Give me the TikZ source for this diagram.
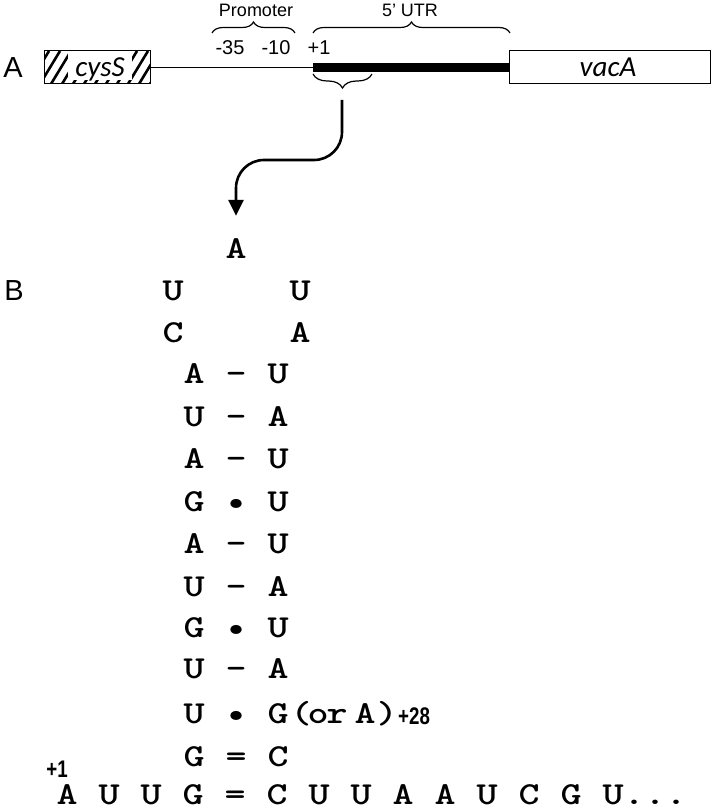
\documentclass[tikz,border=0pt]{standalone}
\usepackage{fontspec}
\setmainfont{Liberation Sans}
\newfontfamily\carl{Carlito}
\usetikzlibrary{decorations.pathreplacing,arrows.meta}
\tikzset{
  lbl/.style={inner sep=0pt, anchor=base, font=\fontsize{29}{30}\selectfont},
  gene/.style={draw, line width=1pt, minimum height=33pt, inner sep=0pt},
  genetxt/.style={inner sep=0pt, anchor=base, font=\carl\itshape\fontsize{29}{30}\selectfont},
  small/.style={inner sep=0pt, anchor=base, font=\fontsize{18}{20}\selectfont},
  num/.style={inner sep=0pt, anchor=base, font=\fontsize{20}{21}\selectfont},
  br/.style={decorate, decoration={brace, amplitude=11pt}, line width=1.2pt},
  nt/.style={inner sep=0pt, anchor=base, font=\ttfamily\bfseries\fontsize{32}{34}\selectfont},
  posn/.style={inner sep=0pt, anchor=base, font=\bfseries\fontsize{24}{25}\selectfont},
  arr/.style={line width=2.6pt, rounded corners=28pt, -{Triangle[width=15pt,length=16pt]}},
}
\newcommand\wide[1]{\scalebox{1.25}[1]{#1}}
\newcommand\narrow[1]{\scalebox{0.78}[1]{#1}}
\newcommand\pairrow[5]{%
  \node[nt] (#1l) at (194,#2) {\wide{#3}};
  \node[nt] (#1m) at (236,#2) {\wide{#4}};
  \node[nt] (#1r) at (278,#2) {\wide{#5}};}
\begin{document}
\begin{tikzpicture}[x=1pt,y=-1pt]
\useasboundingbox (0,0) rectangle (712,810);
% ---------- Part A ----------
\node[lbl] (labA) at (13,78) {A};
\begin{scope}
  \clip (44,51) rectangle (150,84);
  \foreach \x in {18,29,...,160} \draw[line width=2.6pt] (\x,84) -- ++(20,-33);
\end{scope}
\fill[white] (68,51.5) rectangle (132,80);
\node[gene, minimum width=106pt] (cys) at (97,67.5) {};
\node[genetxt] (cyst) at (100,77) {cysS};
\node[gene, minimum width=201pt] (vac) at (609.5,67.5) {};
\node[genetxt] (vact) at (608,77) {vacA};
\coordinate (tss) at (313,67.5);
\draw[line width=1.5pt] (cys.east) -- (tss);
\draw[line width=9pt] (tss) -- (vac.west);
% braces and labels
\coordinate (pb1) at (212,33); \coordinate (pb2) at (295,33);
\draw[br] (pb1) -- (pb2);
\node[small] (prom) at (256,17) {Promoter};
\coordinate (ub1) at (313,33); \coordinate (ub2) at (510,33);
\draw[br] (ub1) -- (ub2);
\node[small] (utr) at (410,17) {5’ UTR};
\node[num] (m35) at (230,55) {-35};
\node[num] (m10) at (276,55) {-10};
\node[num] (p1a) at (319,55) {+1};
\coordinate (lb1) at (372,74); \coordinate (lb2) at (313,74);
\draw[br, decoration={amplitude=14pt}] (lb1) -- (lb2);
\coordinate (bt) at (342,100);
% ---------- Part B ----------
\node[lbl] (labB) at (14,300) {B};
\node[nt] (topA) at (236,258) {\wide{A}};
\draw[arr, shorten >=22pt] (bt) -- (342,160) -- (236,160) -- (topA);
\node[nt] (l1a) at (173,300) {\wide{U}};
\node[nt] (l1b) at (300,300) {\wide{U}};
\node[nt] (l2a) at (173,342) {\wide{C}};
\node[nt] (l2b) at (300,342) {\wide{A}};
\pairrow{r3}{383}{A}{-}{U}
\pairrow{r4}{426}{U}{-}{A}
\pairrow{r5}{468}{A}{-}{U}
\pairrow{r6}{511}{G}{\textbullet}{U}
\pairrow{r7}{553}{A}{-}{U}
\pairrow{r8}{596}{U}{-}{A}
\pairrow{r9}{637}{G}{\textbullet}{U}
\pairrow{r10}{678}{U}{-}{A}
\pairrow{r11}{723}{U}{\textbullet}{G}
\node[nt] (orp1) at (301,723) {\wide{(}};
\node[nt] (oro) at (318,723) {\wide{o}};
\node[nt] (orr) at (337,723) {\wide{r}};
\node[nt] (ora) at (365,723) {\wide{A}};
\node[nt] (orp2) at (387,723) {\wide{)}};
\node[posn, anchor=base west] (p28) at (398,724) {\narrow{+28}};
\pairrow{r12}{766}{G}{=}{C}
\node[posn] (p1b) at (57,777) {\narrow{+1}};
\foreach \t [count=\i from 0] in {A,U,U,G,=,C,U,U,A,A,U,C,G,U}
  \node[nt] (bot\i) at ({67+42*\i},804) {\wide{\t}};
\node[nt] (dot1) at (634,804) {\wide{.}};
\node[nt] (dot2) at (655,804) {\wide{.}};
\node[nt] (dot3) at (676,804) {\wide{.}};
\end{tikzpicture}
\end{document}
